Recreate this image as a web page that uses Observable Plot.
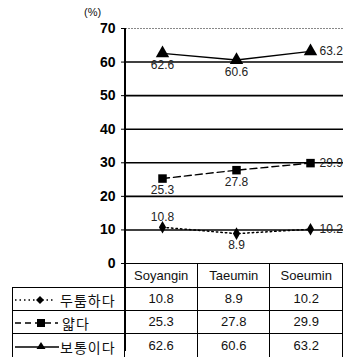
<!DOCTYPE html>
<html><head><meta charset="utf-8">
<script src="https://cdn.jsdelivr.net/npm/d3@7"></script>
<script src="https://cdn.jsdelivr.net/npm/@observablehq/plot@0.6"></script>
<style>
html,body{margin:0;padding:0;background:#fff;overflow:hidden;width:343px;height:357px;}
#wrap{position:relative;width:343px;height:357px;font-family:"Liberation Sans",Arial,sans-serif;}
#wrap svg.plot{position:absolute;left:0;top:0;}
#unit{position:absolute;left:84px;top:6px;font-size:11px;color:#111;}
table{position:absolute;left:12px;top:263px;border-collapse:collapse;table-layout:fixed;font-family:"Liberation Sans",Arial,sans-serif;font-size:13px;color:#111;}
td{border:1px solid #000;padding:0;text-align:center;height:20px;line-height:20px;overflow:hidden;}
td.leg{text-align:left;white-space:nowrap;font-family:"Noto Sans CJK KR",sans-serif;font-size:14px;letter-spacing:1px;}
td.leg svg{vertical-align:middle;display:inline-block;}
td.leg span{vertical-align:middle;display:inline-block;line-height:18px;}
tr.head td{height:23px;line-height:23px;}
tr.head td.blank{border-top:none;border-left:none;}
</style></head>
<body><div id="wrap"><div id="unit">(%)</div></div>
<script>
const categories = ["Soyangin", "Taeumin", "Soeumin"];
const seriesNames = ["두툼하다", "얇다", "보통이다"];
const thickVals = [10.8, 8.9, 10.2];
const thinVals = [25.3, 27.8, 29.9];
const normalVals = [62.6, 60.6, 63.2];
const yTicks = [0, 10, 20, 30, 40, 50, 60, 70];

const seriesVals = [thickVals, thinVals, normalVals];
const styles = [
  {dash: "1.5,3", symbol: "diamond", r: 3.8, lw: 1.5},
  {dash: "7,4", symbol: "square", r: 4.8, lw: 1.4},
  {dash: null, symbol: "triangle", r: 5, lw: 1.4}
];
// label placement per series/point: "b" below, "a" above, "r" right
const place = [["a","b","r"],["b","b","r"],["b","b","r"]];

const rows = [];
seriesVals.forEach((vals, s) => vals.forEach((v, i) => rows.push({s, name: seriesNames[s], cat: categories[i], v, pos: place[s][i]})));

const marks = [
  Plot.ruleY(yTicks.filter(d => d > 0 && d < 70), {stroke: "#000", strokeWidth: 1.6}),
  Plot.ruleY([70], {stroke: "#888", strokeWidth: 1, strokeDasharray: "2,1"}),
  Plot.ruleY([0], {stroke: "#000", strokeWidth: 1.2}),
  Plot.axisY({ticks: yTicks, tickSize: 4, tickPadding: 6, fontSize: 14, fontWeight: "bold", fill: "#000", label: null})
];
styles.forEach((st, s) => {
  const data = rows.filter(d => d.s === s);
  marks.push(Plot.line(data, {x: "cat", y: "v", stroke: "#000", strokeWidth: st.lw, strokeDasharray: st.dash}));
  marks.push(Plot.dot(data, {x: "cat", y: "v", symbol: () => st.symbol, r: st.r, fill: "#000", stroke: "none"}));
  marks.push(Plot.text(data.filter(d => d.pos === "b"), {x: "cat", y: "v", text: d => d.v.toFixed(1), dy: 12, fontSize: 12, fill: "#222"}));
  marks.push(Plot.text(data.filter(d => d.pos === "a"), {x: "cat", y: "v", text: d => d.v.toFixed(1), dy: -10, fontSize: 12, fill: "#222"}));
  marks.push(Plot.text(data.filter(d => d.pos === "r"), {x: "cat", y: "v", text: d => d.v.toFixed(1), dx: 9, textAnchor: "start", fontSize: 12, fill: "#222"}));
});

const chart = Plot.plot({
  width: 343, height: 275,
  marginTop: 28, marginBottom: 12, marginLeft: 125, marginRight: 0,
  style: {fontFamily: "'Liberation Sans', Arial, sans-serif", background: "transparent", overflow: "hidden"},
  x: {type: "point", domain: categories, range: [125, 347], padding: 0.5, axis: null},
  y: {domain: [0, 70], range: [263, 28], axis: null},
  marks
});
document.getElementById("wrap").appendChild(chart);

// y axis line through chart and table
const ySc = chart.scale("y");
const axisLine = document.createElement("div");
axisLine.style.cssText = `position:absolute;left:124px;top:${ySc.apply(70)}px;width:2px;height:${351 - ySc.apply(70)}px;background:#000;z-index:2;`;
document.getElementById("wrap").appendChild(axisLine);

// data table
const xSc = chart.scale("x");
const step = xSc.step;
const table = document.createElement("table");
const cg = document.createElement("colgroup");
cg.innerHTML = `<col style="width:${125 - 12}px">` + categories.map(() => `<col style="width:${step}px">`).join("");
table.appendChild(cg);
const head = document.createElement("tr");
head.className = "head";
head.innerHTML = `<td class="blank"></td>` + categories.map(c => `<td>${c}</td>`).join("");
table.appendChild(head);
const swatch = (st, s) => {
  const w = 46;
  const sym = st.symbol === "diamond" ? `<path d="M27,6 L31,10 L27,14 L23,10Z" fill="#000"/>`
    : st.symbol === "square" ? `<rect x="24" y="6" width="8" height="8" fill="#000"/>`
    : `<path d="M28,5 L32.5,12 L23.5,12Z" fill="#000"/>`;
  return `<svg width="${w}" height="20"><line x1="2" x2="${s===2?46:(s===1?45:40)}" y1="10" y2="10" stroke="#000" stroke-width="1.4" ${st.dash ? `stroke-dasharray="${s===0?'1.5,3':'6,4'}"` : ""}/>${sym}</svg>`;
};
seriesVals.forEach((vals, s) => {
  const tr = document.createElement("tr");
  tr.innerHTML = `<td class="leg">${swatch(styles[s], s)}<span style="margin-left:${s===1?3:1}px">${seriesNames[s]}</span></td>` + vals.map(v => `<td>${v.toFixed(1)}</td>`).join("");
  table.appendChild(tr);
});
document.getElementById("wrap").appendChild(table);
</script>
</body></html>
